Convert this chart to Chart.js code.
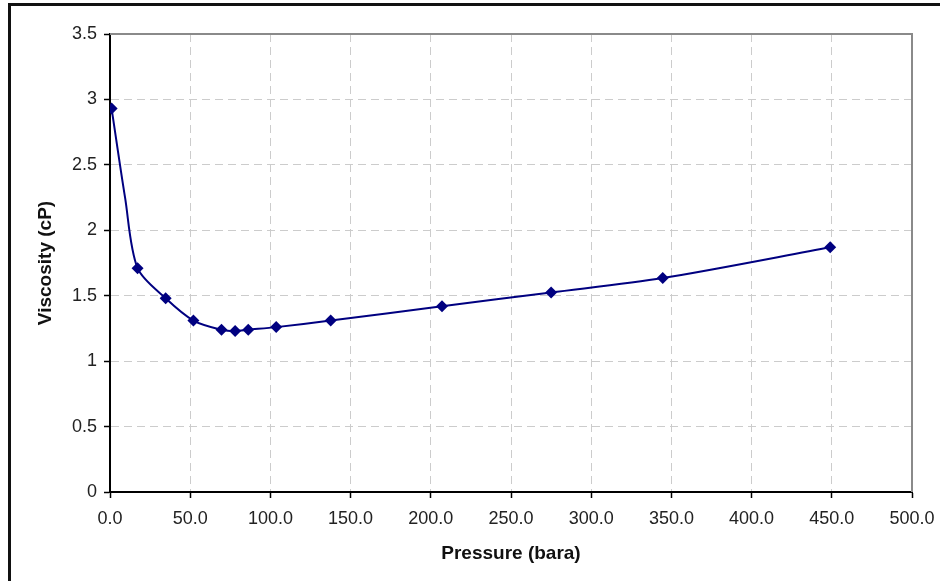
<!DOCTYPE html>
<html>
<head>
<meta charset="utf-8">
<script src="https://cdn.jsdelivr.net/npm/chart.js@4/dist/chart.umd.min.js"></script>
<style>
  html, body { margin: 0; padding: 0; background: #fff; overflow: hidden; }
  #wrap { position: relative; width: 940px; height: 581px; }
  #frame { position: absolute; left: 8px; top: 3px; width: 960px; height: 600px; border: 3px solid #111; box-sizing: border-box; }
  canvas { position: absolute; left: 0; top: 0; }
</style>
</head>
<body>
<div id="wrap">
  <div id="frame"></div>
  <canvas id="c" width="940" height="581"></canvas>
</div>
<script>
// Data
const pressureBara = [1.0, 9.4, 17.2, 34.7, 52.0, 69.5, 78.0, 86.2, 103.6, 137.6, 207.0, 275.0, 344.6, 449.0];
const viscosityCP  = [2.93, 2.25, 1.71, 1.48, 1.31, 1.24, 1.23, 1.24, 1.26, 1.31, 1.42, 1.525, 1.635, 1.87];
const xTickMin = 0, xTickMax = 500, xTickStep = 50;
const yTickMin = 0, yTickMax = 3.5, yTickStep = 0.5;
const xTitle = 'Pressure (bara)';
const yTitle = 'Viscosity (cP)';

const points = pressureBara.map((p, i) => ({ x: p, y: viscosityCP[i] }));

const plotFrame = {
  id: 'plotFrame',
  beforeDatasetsDraw(chart) {
    const { ctx, chartArea: a } = chart;
    ctx.save();
    ctx.strokeStyle = '#8a8a8a';
    ctx.lineWidth = 2;
    ctx.beginPath();
    ctx.moveTo(a.left, a.top);
    ctx.lineTo(a.right, a.top);
    ctx.lineTo(a.right, a.bottom);
    ctx.stroke();
    ctx.restore();
  }
};

const tickFont = { family: 'Liberation Sans, Arial, sans-serif', size: 18 };
const titleFont = { family: 'Liberation Sans, Arial, sans-serif', size: 19, weight: 'bold' };

new Chart(document.getElementById('c'), {
  type: 'scatter',
  data: {
    datasets: [{
      data: points,
      showLine: true,
      borderColor: '#000080',
      backgroundColor: '#000080',
      borderWidth: 2,
      tension: 0.3,
      pointStyle: 'rectRot',
      pointRadius: (ctx) => ctx.dataIndex === 1 ? 0 : 6,
      pointHoverRadius: 6,
      pointBorderWidth: 0
    }]
  },
  options: {
    responsive: false,
    animation: false,
    devicePixelRatio: 1,
    layout: { padding: { top: 34, right: 28, left: 0, bottom: 0 } },
    plugins: { legend: { display: false }, tooltip: { enabled: false } },
    scales: {
      x: {
        type: 'linear',
        min: xTickMin, max: xTickMax,
        afterFit(s) { s.height = 89; s.paddingRight = 0; s.paddingLeft = 0; },
        ticks: {
          stepSize: xTickStep,
          color: '#222',
          font: tickFont,
          padding: 10,
          maxRotation: 0,
          callback: (v) => Number(v).toFixed(1)
        },
        grid: {
          color: '#cccccc',
          lineWidth: 1,
          tickLength: 6,
          tickColor: '#000',
          tickWidth: 1.5,
          tickBorderDash: []
        },
        border: { display: true, color: '#000', width: 2, dash: [8, 5] },
        title: { display: true, text: xTitle, color: '#111', font: titleFont, padding: { top: 0, bottom: 16 } }
      },
      y: {
        type: 'linear',
        min: yTickMin, max: yTickMax,
        afterFit(s) { s.width = 110; s.paddingTop = 0; s.paddingBottom = 0; },
        ticks: {
          stepSize: yTickStep,
          color: '#222',
          font: tickFont,
          padding: 7,
          callback: (v) => String(v)
        },
        grid: {
          color: '#cccccc',
          lineWidth: 1,
          tickLength: 6,
          tickColor: '#000',
          tickWidth: 1.5,
          tickBorderDash: []
        },
        border: { display: true, color: '#000', width: 2, dash: [8, 5] },
        title: { display: true, text: yTitle, color: '#111', font: titleFont, padding: { top: 34, bottom: 0 } }
      }
    }
  },
  plugins: [plotFrame]
});
</script>
</body>
</html>
